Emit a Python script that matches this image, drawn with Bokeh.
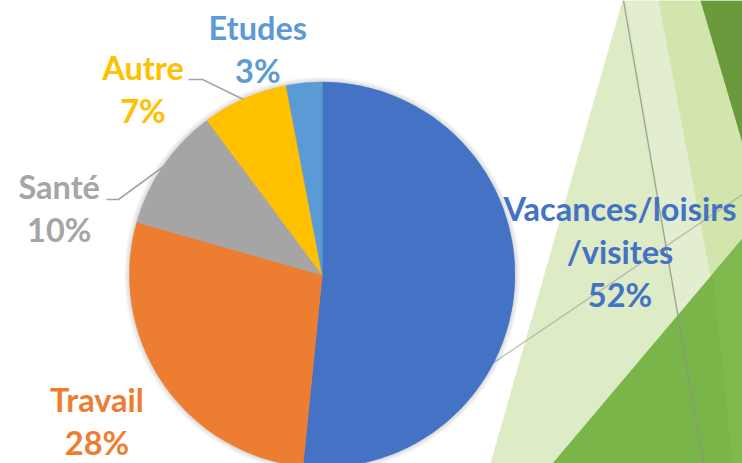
import math
from bokeh.plotting import figure
from bokeh.models import Range1d
from bokeh.core.properties import value
from bokeh.embed import file_html
from bokeh.resources import INLINE

# ---- data ----
categories = ["Vacances/loisirs\n/visites", "Travail", "Santé", "Autre", "Etudes"]
shares = [51.6, 27.8, 10.4, 7.2, 3.0]
colors = ["#4472C4", "#ED7D31", "#A5A5A5", "#FFC000", "#5B9BD5"]

# ---- layout (reference pixel coordinates, y downward) ----
W, H = 742, 463
CX, CY, R = 321.7, 274.3, 192.7
# label anchor: (center x, first baseline y)
label_pos = [(619.5, 220.0), (96.5, 411.0), (58.7, 198.3), (142.5, 79.3), (257.3, 39.3)]
LINE_GAP = 43.0
BASE_FIX = -12.0
FONT = "Lato"
FSIZE = "32.5px"

def Y(py):
    return H - py

p = figure(width=W, height=H, output_backend="svg", toolbar_location=None,
           x_range=Range1d(0, W), y_range=Range1d(0, H),
           min_border=0, outline_line_color=None)
p.axis.visible = False
p.grid.visible = False
p.background_fill_color = "white"
p.border_fill_color = "white"

# ---- decorative background (theme shapes) ----
def poly(pts, color, alpha=1.0):
    p.patch([q[0] for q in pts], [Y(q[1]) for q in pts], fill_color=color,
            fill_alpha=alpha, line_color=None)

poly([(622, 0), (742, 0), (742, 463), (490, 463)], "#DDEBC6")
poly([(626, 0), (742, 0), (742, 463), (702, 463)], "#E2EECF")
poly([(658, 0), (742, 0), (742, 445)], "#D1E5AC")
poly([(700, 0), (742, 0), (742, 143)], "#6A9A3B")
poly([(742, 238), (552, 463), (742, 463)], "#79B548")
poly([(742, 238), (712, 274), (732, 463), (742, 463)], "#7DB94C")
p.line([623, 703], [Y(0), Y(463)], line_color="#8E9683", line_width=1.4, line_alpha=0.8)
p.line([480, 742], [Y(371), Y(194)], line_color="#A8AE9C", line_width=1.3, line_alpha=0.8)

# ---- pie shadow ----
for k in range(1, 7):
    p.circle([CX], [Y(CY)], radius=R + k * 0.9, fill_color="black",
             fill_alpha=0.025, line_color=None)

# ---- pie ----
total = sum(shares)
cum = 0.0
for s, c in zip(shares, colors):
    a0 = math.pi / 2 - 2 * math.pi * cum / total
    cum += s
    a1 = math.pi / 2 - 2 * math.pi * cum / total
    p.wedge(x=[CX], y=[Y(CY)], radius=R, start_angle=a0, end_angle=a1,
            direction="clock", fill_color=c, line_color=c, line_width=0.6)

# ---- leader lines ----
p.line([188, 202, 243], [Y(79), Y(79), Y(99)], line_color="#A6A6A6", line_width=1.6)
p.line([106, 118, 163], [Y(199), Y(199), Y(166)], line_color="#A6A6A6", line_width=1.6)

# ---- labels ----
for name, s, c, (lx, ly) in zip(categories, shares, colors, label_pos):
    lines = name.split("\n") + ["%d%%" % round(s)]
    for i, t in enumerate(lines):
        p.text([lx], [Y(ly + i * LINE_GAP + BASE_FIX)], text=[t], text_color=c,
               text_font=value(FONT), text_font_size=FSIZE, text_font_style="bold",
               text_align="center", text_baseline="alphabetic")

open("out.html", "w").write(file_html(p, INLINE))
